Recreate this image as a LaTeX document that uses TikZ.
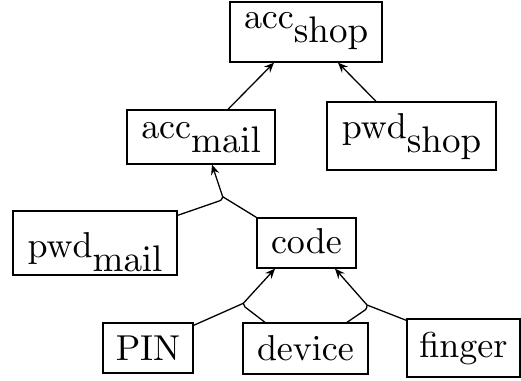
\documentclass[tikz,border=0pt]{standalone}
\usetikzlibrary{arrows.meta}

% Computer Modern at the 10pt design size, scaled up
\font\treerm=cmr10 at 36pt
\font\treesubrm=cmr10 at 37pt
\newcommand\lowsub[1]{\raisebox{-14pt}{\treesubrm #1}}

\tikzset{
  tnode/.style={draw, line width=1.3pt, inner sep=0pt, anchor=base, font=\treerm},
  conn/.style={line width=1.3pt},
  arr/.style={conn, -{Stealth[length=10pt, width=8.5pt, inset=3.5pt]}},
}

\begin{document}
\begin{tikzpicture}[x=1pt, y=-1pt]
  \useasboundingbox (0,0) rectangle (521,380);

  % attack tree nodes
  \node[tnode, minimum width=152, text height=26pt, text depth=34pt] (accshop) at (306,28) {acc\lowsub{shop}};
  \node[tnode, minimum width=148, text height=28pt, text depth=26pt] (accmail) at (201,138) {acc\lowsub{mail}};
  \node[tnode, minimum width=169, text height=36pt, text depth=32pt] (pwdshop) at (411.5,138) {pwd\lowsub{shop}};
  \node[tnode, minimum width=164, text height=46pt, text depth=18pt] (pwdmail) at (95,257) {pwd\lowsub{mail}};
  \node[tnode, minimum width=99,  text height=35pt, text depth=15pt] (code)    at (306.5,253) {code};
  \node[tnode, minimum width=90,  text height=37pt, text depth=13pt] (pin)     at (148,360) {PIN};
  \node[tnode, minimum width=125, text height=37pt, text depth=14pt] (device)  at (305.5,360) {device};
  \node[tnode, minimum width=113, text height=38pt, text depth=20pt] (finger)  at (463.5,357) {finger};

  % conjunction points
  \coordinate (g1) at (222.7,196.7);
  \coordinate (g2) at (243.3,303.3);
  \coordinate (g3) at (367,305);

  % OR children of acc_shop
  \draw[arr] ([xshift=27]accmail.north) -- ([xshift=-32]accshop.south);
  \draw[arr] ([xshift=-35.5]pwdshop.north) -- ([xshift=32]accshop.south);

  % acc_mail = pwd_mail AND code
  \draw[conn] ([yshift=-5]pwdmail.north east) -- ([shift={(-2.7,4)}]g1)
              .. controls ([shift={(-1.3,3.4)}]g1) .. (g1);
  \draw[conn] (g1) -- (code.north west);
  \draw[arr] (g1) -- ([xshift=11]accmail.south);

  % code = PIN AND device
  \draw[conn] ([yshift=-3]pin.north east) -- (g2);
  \draw[conn] ([xshift=-40.5]device.north) -- ([shift={(1.7,3.7)}]g2)
              .. controls ([shift={(0.2,2.5)}]g2) .. (g2);
  \draw[arr] (g2) -- ([xshift=-31.5]code.south);

  % code = device AND finger
  \draw[conn] ([yshift=-2]finger.north west) -- (g3);
  \draw[conn] ([xshift=41.5]device.north) -- ([shift={(-1.9,5)}]g3)
              .. controls ([shift={(-0.4,3.6)}]g3) .. (g3);
  \draw[arr] (g3) -- ([xshift=28.5]code.south);
\end{tikzpicture}
\end{document}
